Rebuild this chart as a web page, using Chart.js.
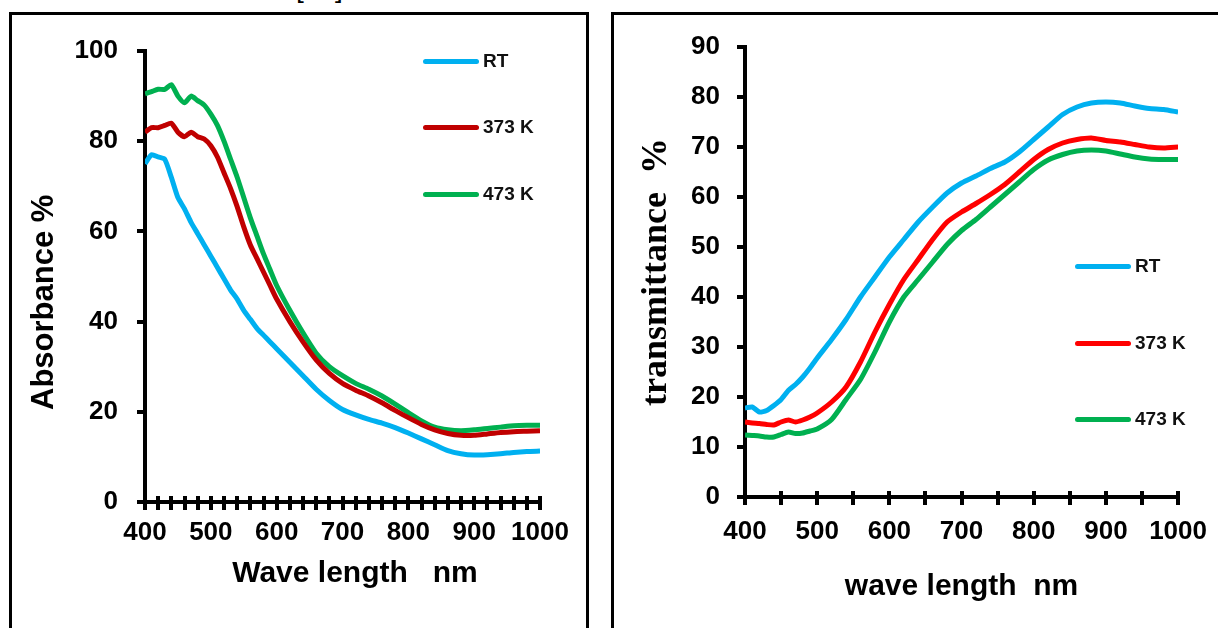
<!DOCTYPE html>
<html>
<head>
<meta charset="utf-8">
<script src="https://cdn.jsdelivr.net/npm/chart.js@4.4.1/dist/chart.umd.min.js"></script>
<style>
  html,body{margin:0;padding:0;background:#fff;}
  body{width:1218px;height:628px;position:relative;overflow:hidden;font-family:'Liberation Sans',Arial,sans-serif;}
  .panel{position:absolute;border:3px solid #000;box-sizing:border-box;}
  canvas{position:absolute;top:0;}
  .leg{position:absolute;display:flex;align-items:center;font-weight:bold;font-size:19px;color:#111;}
  .leg span{display:inline-block;width:56px;height:5px;border-radius:3px;margin-right:4px;}
  .cut{position:absolute;left:296px;top:-27px;font-size:28px;line-height:30px;color:#000;}
</style>
</head>
<body>
<div class="cut">[12]</div>
<div class="panel" style="left:9px;top:12px;width:580px;height:660px;"></div>
<div class="panel" style="left:611px;top:12px;width:640px;height:660px;"></div>
<canvas id="absChart" width="600" height="628" style="left:0;width:600px;height:628px;"></canvas>
<canvas id="trChart" width="618" height="628" style="left:600px;width:618px;height:628px;"></canvas>
<div id="legendAbs"></div>
<div id="legendTr"></div>

<script>
// absorbance panel (left)
const waveAbs = [400,410,420,430,440,450,460,470,480,490,500,510,520,530,540,550,560,570,580,590,600,
  620,640,660,680,700,720,740,760,780,800,820,840,860,880,900,920,940,960,980,1000];
const absRT = [75,77,76.5,76,72,67.5,65,62,59.5,57,54.5,52,49.5,47,45,42.5,40.5,38.5,37,35.5,34,
  31,28,25,22.5,20.5,19.3,18.3,17.5,16.5,15.3,14,12.7,11.4,10.7,10.4,10.5,10.7,11,11.2,11.3];
const abs373 = [82,83,83,83.5,84,82,81,82,81,80.5,79,76.5,73,69.5,65.5,61,57,54,51,48,45,
  40,35.5,31.5,28.5,26.3,24.8,23.5,22,20.3,18.7,17.2,16,15.2,14.8,14.8,15.1,15.4,15.6,15.7,15.8];
const abs473 = [90.5,91,91.5,91.5,92.5,90,88.5,90,89,88,86,83.5,80,76,72,67.5,63,59,55,51.5,48,
  42.5,37.5,33,30,28,26.3,25,23.5,21.7,19.8,18,16.6,16,15.8,16,16.3,16.6,16.9,17,17];

// transmittance panel (right)
const waveTr = [400,410,420,430,440,450,460,470,480,490,500,
  520,540,560,580,600,620,640,660,680,700,720,740,760,780,800,820,840,860,880,900,920,940,960,980,1000];
const trRT = [17.8,18,17,17.3,18.3,19.5,21.3,22.5,24,25.8,27.8,
  31.5,35.5,40,44,48,51.5,55,58,60.8,62.8,64.2,65.7,67,69,71.5,74,76.5,78,78.8,79,78.8,78.2,77.7,77.5,77];
const tr373 = [15,14.8,14.7,14.5,14.4,15,15.4,15,15.4,16,16.8,
  19,22,27,33,38.5,43.5,47.5,51.5,55,57,58.7,60.5,62.5,65,67.5,69.5,70.8,71.5,71.8,71.3,71,70.5,70,69.8,70];
const tr473 = [12.4,12.3,12.2,12,12,12.5,13,12.7,12.8,13.2,13.6,
  15.5,19.5,23.5,29,35,40,43.5,47,50.5,53.3,55.5,58,60.5,63,65.5,67.4,68.5,69.2,69.4,69.2,68.6,68,67.6,67.5,67.5];

const seriesNames = ['RT','373 K','473 K'];
const colorsAbs = ['#00B0F0','#C00000','#00B050'];
const colorsTr = ['#00B0F0','#FF0000','#00B050'];

const tickFont = {family:"'Liberation Sans', Arial, sans-serif", weight:'bold', size:26};

function pts(xs, ys){ return xs.map((x,i)=>({x, y:ys[i]})); }

// short tick stubs above the x axis so the ticks cross it
const crossTicks = {
  id:'crossTicks',
  afterDraw(chart){
    const s = chart.scales.x, ctx = chart.ctx;
    ctx.save();
    ctx.strokeStyle = '#000';
    ctx.lineWidth = 4;
    s.ticks.forEach(t=>{
      const px = Math.round(s.getPixelForValue(t.value));
      ctx.beginPath();
      ctx.moveTo(px, s.top);
      ctx.lineTo(px, s.top - 6);
      ctx.stroke();
    });
    ctx.restore();
  }
};

function makeChart(id, cfg){
  const datasets = cfg.series.map((ys,i)=>({
    label: seriesNames[i],
    data: pts(cfg.xs, ys),
    borderColor: cfg.colors[i],
    backgroundColor: cfg.colors[i],
    borderWidth: 5,
    pointRadius: 0,
    tension: 0.2,
    fill: false
  }));
  return new Chart(document.getElementById(id), {
    type:'line',
    data:{datasets},
    plugins:[crossTicks],
    options:{
      responsive:false,
      animation:false,
      layout:{padding:cfg.padding},
      plugins:{legend:{display:false}, tooltip:{enabled:false}},
      scales:{
        x:{
          type:'linear', min:400, max:1000,
          afterFit: s=>{ s.height = cfg.xHeight; },
          border:{display:true, color:'#000', width:4},
          grid:{display:true, drawOnChartArea:false, drawTicks:true, tickLength:8, color:'#000', lineWidth:4},
          ticks:{stepSize:cfg.xStep, autoSkip:false, maxRotation:0, color:'#000', font:tickFont,
            padding:cfg.xTickPad, callback:v=> v%100===0 ? v : ''},
          title:{display:true, text:cfg.xTitle, color:'#000',
            font:{family:"'Liberation Sans', Arial, sans-serif", weight:'bold', size:30},
            padding:{top:0,bottom:cfg.xTitlePad}}
        },
        y:{
          min:0, max:cfg.yMax,
          afterFit: s=>{ s.width = 145; },
          border:{display:true, color:'#000', width:4},
          grid:{display:true, drawOnChartArea:false, drawTicks:true, tickLength:8, color:'#000', lineWidth:4},
          ticks:{stepSize:cfg.yStep, color:'#000', font:tickFont, padding:cfg.yTickPad},
          title:{display:true, text:cfg.yTitle, color:'#000', font:cfg.yTitleFont,
            padding:{top:cfg.yTitlePad,bottom:0}}
        }
      }
    }
  });
}

makeChart('absChart', {
  xs: waveAbs, series:[absRT, abs373, abs473], colors: colorsAbs,
  padding:{left:0, top:51, right:60, bottom:0},
  xHeight:126, xStep:20, xTickPad:7, xTitle:'   Wave length   nm', xTitlePad:36,
  yMax:100, yStep:20, yTickPad:19, yTitle:'Absorbance %      ',
  yTitleFont:{family:"'Liberation Sans', Arial, sans-serif", weight:'bold', size:31}, yTitlePad:26
});

makeChart('trChart', {
  xs: waveTr, series:[trRT, tr373, tr473], colors: colorsTr,
  padding:{left:0, top:47, right:33, bottom:0},
  xHeight:131, xStep:50, xTickPad:11, xTitle:'wave length  nm', xTitlePad:23,
  yMax:90, yStep:10, yTickPad:17, yTitle:'transmittance  %',
  yTitleFont:{family:"'Liberation Serif', 'Times New Roman', serif", weight:'bold', size:36}, yTitlePad:35
});

// legends placed by hand like the original
function buildLegend(elId, colors, left, tops){
  const host = document.getElementById(elId);
  seriesNames.forEach((name,i)=>{
    const d = document.createElement('div');
    d.className = 'leg';
    d.style.left = left + 'px';
    d.style.top = (tops[i] - 12) + 'px';
    d.innerHTML = `<span style="background:${colors[i]}"></span>${name}`;
    host.appendChild(d);
  });
}
buildLegend('legendAbs', colorsAbs, 423, [62,128,195]);
buildLegend('legendTr', colorsTr, 1075, [267,344,420]);
</script>
</body>
</html>
